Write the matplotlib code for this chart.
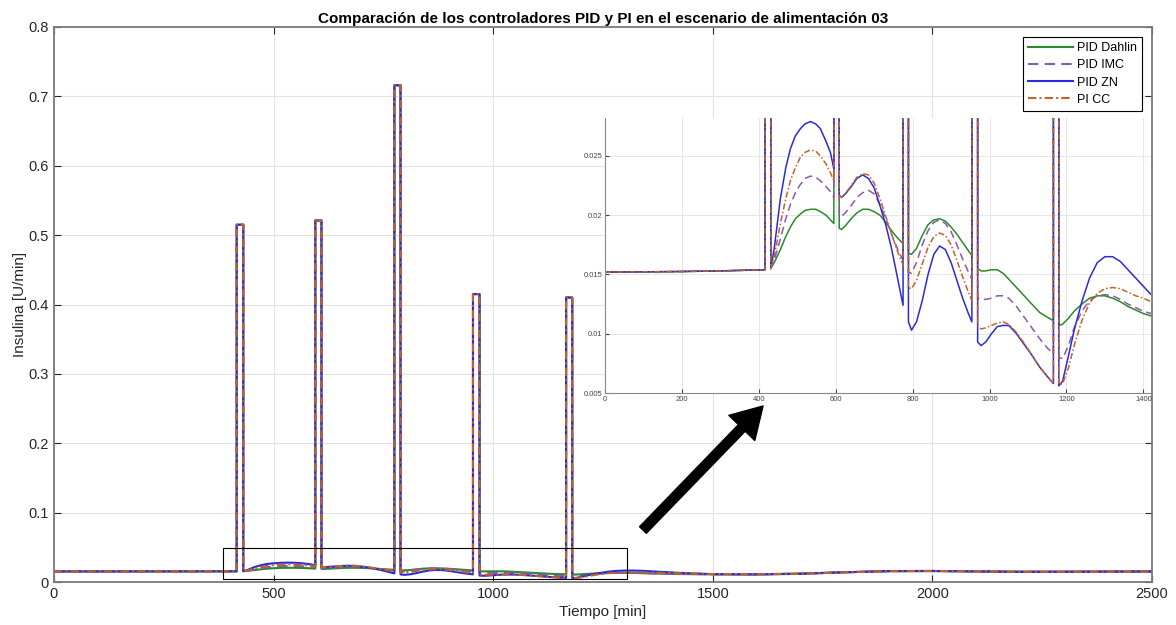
import numpy as np
import matplotlib.pyplot as plt
import matplotlib.patches as mpatches
from matplotlib.transforms import IdentityTransform

plt.rcParams['font.family'] = ['Liberation Sans', 'DejaVu Sans']

# instantes de los bolos (inicio / fin) y pico de insulina [U/min]
bolo_ini = [416, 595, 775, 954, 1166]
bolo_fin = [431, 609, 789, 969, 1180]
bolo_pico = [0.515, 0.521, 0.716, 0.415, 0.410]

# tramos regulados entre bolos (tiempos compartidos)
t_tramo0 = [0, 100, 200, 300, 416]
t_tramo1 = [431, 440, 456, 470, 482, 495, 508, 520, 534, 548, 560, 575, 586, 595]
t_tramo2 = [609, 615, 625, 640, 655, 670, 685, 700, 715, 730, 745, 760, 775]
t_tramo3 = [789, 797, 810, 825, 840, 855, 870, 885, 900, 915, 930, 945, 954]
t_tramo4 = [969, 978, 990, 1005, 1020, 1035, 1050, 1070, 1090, 1110, 1130, 1150, 1166]
t_tramo5 = [1180, 1190, 1205, 1220, 1240, 1260, 1280, 1300, 1320, 1340, 1360, 1380, 1400,
            1420, 1500, 1600, 1700, 1800, 1900, 2000, 2100, 2200, 2300, 2400, 2500]

# PID Dahlin
dahlin = [
    [0.0152, 0.01522, 0.01525, 0.0153, 0.0154],
    [0.0155, 0.0160, 0.0171, 0.0182, 0.0190, 0.0197, 0.0201, 0.0204, 0.0205, 0.0205, 0.0203, 0.0200, 0.0196, 0.0193],
    [0.0189, 0.0188, 0.0191, 0.0197, 0.0202, 0.0205, 0.0205, 0.0203, 0.0200, 0.0194, 0.0187, 0.0181, 0.0176],
    [0.0168, 0.0167, 0.0172, 0.0183, 0.0192, 0.0196, 0.0197, 0.0195, 0.0190, 0.0184, 0.0177, 0.0170, 0.0166],
    [0.0155, 0.0153, 0.0153, 0.0154, 0.0154, 0.0151, 0.0146, 0.0139, 0.0132, 0.0125, 0.0118, 0.0114, 0.0111],
    [0.0107, 0.0108, 0.0113, 0.0119, 0.0125, 0.0130, 0.0132, 0.0132, 0.0130, 0.0127, 0.0123, 0.0120, 0.0117,
     0.0115, 0.0110, 0.0112, 0.0122, 0.0141, 0.0155, 0.0157, 0.0153, 0.0149, 0.0149, 0.0151, 0.0152],
]

# PID IMC
imc = [
    [0.0152, 0.01522, 0.01525, 0.0153, 0.0154],
    [0.0155, 0.0162, 0.0180, 0.0197, 0.0209, 0.0219, 0.0226, 0.0231, 0.0233, 0.0232, 0.0229, 0.0224, 0.0220, 0.0215],
    [0.0200, 0.0199, 0.0202, 0.0208, 0.0215, 0.0219, 0.0221, 0.0218, 0.0209, 0.0197, 0.0184, 0.0172, 0.0162],
    [0.0152, 0.0151, 0.0160, 0.0175, 0.0187, 0.0194, 0.0196, 0.0193, 0.0186, 0.0175, 0.0163, 0.0152, 0.0146],
    [0.0130, 0.0129, 0.0129, 0.0130, 0.0132, 0.0132, 0.0130, 0.0123, 0.0114, 0.0105, 0.0096, 0.0088, 0.0083],
    [0.0080, 0.0079, 0.0090, 0.0105, 0.0119, 0.0128, 0.0132, 0.0133, 0.0132, 0.0129, 0.0125, 0.0122, 0.0119,
     0.0117, 0.0112, 0.0111, 0.0120, 0.0140, 0.0155, 0.0158, 0.0153, 0.0148, 0.0148, 0.0150, 0.0152],
]

# PID ZN
zn = [
    [0.0152, 0.01522, 0.01525, 0.0153, 0.0154],
    [0.0155, 0.0172, 0.0214, 0.0240, 0.0256, 0.0267, 0.0273, 0.0277, 0.0279, 0.0277, 0.0273, 0.0262, 0.0253, 0.0239],
    [0.0217, 0.0215, 0.0218, 0.0224, 0.0231, 0.0234, 0.0231, 0.0223, 0.0208, 0.0192, 0.0172, 0.0148, 0.0124],
    [0.0110, 0.0103, 0.0110, 0.0128, 0.0150, 0.0167, 0.0174, 0.0171, 0.0160, 0.0145, 0.0130, 0.0117, 0.0110],
    [0.0093, 0.0090, 0.0093, 0.0100, 0.0106, 0.0107, 0.0107, 0.0100, 0.0091, 0.0082, 0.0072, 0.0064, 0.0058],
    [0.0056, 0.0060, 0.0081, 0.0103, 0.0127, 0.0147, 0.0160, 0.0165, 0.0165, 0.0161, 0.0154, 0.0147, 0.0140,
     0.0133, 0.0113, 0.0108, 0.0118, 0.0140, 0.0158, 0.0160, 0.0152, 0.0146, 0.0147, 0.0150, 0.0152],
]

# PI CC
pi_cc = [
    [0.0152, 0.01522, 0.01525, 0.0153, 0.0154],
    [0.0155, 0.0165, 0.0193, 0.0214, 0.0229, 0.0240, 0.0249, 0.0253, 0.0255, 0.0254, 0.0250, 0.0243, 0.0236, 0.0229],
    [0.0217, 0.0215, 0.0218, 0.0225, 0.0232, 0.0235, 0.0234, 0.0227, 0.0214, 0.0199, 0.0184, 0.0170, 0.0158],
    [0.0139, 0.0138, 0.0145, 0.0159, 0.0173, 0.0182, 0.0185, 0.0183, 0.0175, 0.0162, 0.0148, 0.0135, 0.0128],
    [0.0107, 0.0104, 0.0105, 0.0107, 0.0109, 0.0110, 0.0108, 0.0101, 0.0092, 0.0082, 0.0072, 0.0064, 0.0058],
    [0.0057, 0.0058, 0.0071, 0.0090, 0.0111, 0.0126, 0.0134, 0.0138, 0.0139, 0.0138, 0.0135, 0.0132, 0.0130,
     0.0127, 0.0115, 0.0110, 0.0119, 0.0139, 0.0156, 0.0159, 0.0153, 0.0147, 0.0148, 0.0150, 0.0152],
]

tramos_t = [t_tramo0, t_tramo1, t_tramo2, t_tramo3, t_tramo4, t_tramo5]


# une los tramos regulados con los bolos
def armar_serie(tramos_v):
    t, v = [], []
    for i in range(len(tramos_t)):
        t += tramos_t[i]
        v += tramos_v[i]
        if i < len(bolo_ini):
            t += [bolo_ini[i], bolo_fin[i]]
            v += [bolo_pico[i], bolo_pico[i]]
    return np.array(t), np.array(v)


series = [
    ("PID Dahlin", dahlin, dict(color="#2a8a2a", ls="-")),
    ("PID IMC", imc, dict(color="#8a5aa6", ls=(0, (5, 3)))),
    ("PID ZN", zn, dict(color="#2a2ad8", ls="-")),
    ("PI CC", pi_cc, dict(color="#c2622a", ls=(0, (4, 1.5, 1, 1.5)))),
]

fig = plt.figure(figsize=(11.76, 6.25), dpi=100)
ax = fig.add_axes([0.0459, 0.0688, 0.9337, 0.888])

for nombre, datos, estilo in series:
    t, v = armar_serie(datos)
    ax.plot(t, v, lw=1.5, label=nombre, **estilo)

ax.set_xlim(0, 2500)
ax.set_ylim(0, 0.8)
ax.set_xticks(np.arange(0, 2501, 500))
ax.set_yticks(np.arange(0, 0.81, 0.1))
ax.set_yticklabels(["0", "0.1", "0.2", "0.3", "0.4", "0.5", "0.6", "0.7", "0.8"])
ax.grid(True, color="#e3e3e3", lw=0.8)
ax.tick_params(direction="in", top=True, right=True, labelsize=10.5,
               colors="#262626", length=5)
for s in ax.spines.values():
    s.set_color("#7a7a7a")
    s.set_linewidth(1.3)
ax.set_title("Comparación de los controladores PID y PI en el escenario de alimentación 03",
             fontsize=11, fontweight="bold", pad=3)
ax.set_xlabel("Tiempo [min]", fontsize=11, color="#262626", labelpad=3)
ax.set_ylabel("Insulina [U/min]", fontsize=11, color="#262626", labelpad=1)

leg = ax.legend(loc="upper right", fontsize=9, handlelength=3.6, fancybox=False,
                edgecolor="black", framealpha=1, borderaxespad=0.8,
                labelspacing=0.42, handletextpad=0.3, borderpad=0.4)
leg.get_frame().set_linewidth(0.8)

# recuadro de la zona ampliada
ax.add_patch(mpatches.Rectangle((385, 0.005), 920, 0.044, fill=False,
                                ec="black", lw=0.8, zorder=5))

# ampliación
axi = fig.add_axes([0.5145, 0.3712, 0.4643, 0.44])
for nombre, datos, estilo in series:
    t, v = armar_serie(datos)
    axi.plot(t, v, lw=1.1, **estilo)
axi.set_xlim(0, 1420)
axi.set_ylim(0.005, 0.0282)
axi.set_xticks(np.arange(0, 1401, 200))
axi.set_yticks([0.005, 0.01, 0.015, 0.02, 0.025])
axi.set_yticklabels(["0.005", "0.01", "0.015", "0.02", "0.025"])
axi.grid(True, color="#e6e6e6", lw=0.7)
axi.tick_params(direction="in", labelsize=5.5, colors="#444444", length=3, pad=2)
for s in axi.spines.values():
    s.set_visible(False)
axi.spines["left"].set_visible(True)
axi.spines["bottom"].set_visible(True)
axi.spines["left"].set_color("#888888")
axi.spines["bottom"].set_color("#888888")

# flecha (coordenadas en píxeles de la figura, origen abajo)
alto = fig.get_size_inches()[1] * fig.dpi
flecha = mpatches.FancyArrowPatch((641, alto - 532), (765, alto - 404),
                                  transform=IdentityTransform(),
                                  arrowstyle="simple,head_length=1.1,head_width=1.3,tail_width=0.34",
                                  mutation_scale=20, color="black", zorder=10)
fig.add_artist(flecha)

plt.savefig("out.png", dpi=100)
